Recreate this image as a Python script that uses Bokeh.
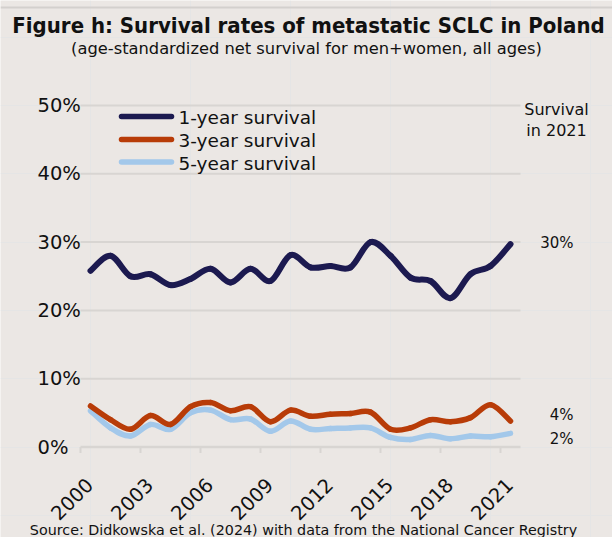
import numpy as np
from bokeh.plotting import figure
from bokeh.models import Range1d
from bokeh.core.properties import value
from bokeh.embed import file_html
from bokeh.resources import INLINE

# ---------------- data ----------------
years = list(range(2000, 2022))
surv_1y = [25.8, 28.0, 25.0, 25.3, 23.7, 24.6, 26.1, 24.1, 26.1, 24.3, 28.1,
           26.3, 26.5, 26.3, 30.0, 28.0, 24.8, 24.3, 21.8, 25.3, 26.5, 29.7]
surv_3y = [6.0, 4.0, 2.6, 4.6, 3.3, 5.9, 6.5, 5.3, 5.9, 3.7, 5.4,
           4.5, 4.8, 4.9, 5.1, 2.6, 2.8, 4.0, 3.7, 4.3, 6.2, 3.8]
surv_5y = [5.3, 2.8, 1.6, 3.3, 2.6, 5.0, 5.4, 4.0, 4.1, 2.3, 3.8,
           2.6, 2.7, 2.8, 2.8, 1.4, 1.1, 1.7, 1.2, 1.6, 1.5, 2.0]
series_names = ["1-year survival", "3-year survival", "5-year survival"]
tick_years = [2000, 2003, 2006, 2009, 2012, 2015, 2018, 2021]
y_ticks = [0, 10, 20, 30, 40, 50]
y_tick_labels = ["0%", "10%", "20%", "30%", "40%", "50%"]
title_text = "Figure h: Survival rates of metastatic SCLC in Poland"
subtitle_text = "(age-standardized net survival for men+women, all ages)"
source_text = "Source: Didkowska et al. (2024) with data from the National Cancer Registry"
right_header = ["Survival", "in 2021"]

# ---------------- style / layout ----------------
BG = "#EBE7E4"
GRID = "#D8D5D2"
TXT = "#111111"
COLORS = ["#1C1A50", "#B83C08", "#A3C8EA"]
WIDTHS = [6, 5.5, 5.5]
FONT = value("DejaVu Sans")
W, H = 612, 537
OFF = 0          # page offset of the canvas
PXY = 20.0       # px per year
PXP = 6.83       # px per percentage point
X0 = years[0] - (90 - OFF) / PXY
X1 = X0 + W / PXY
Y1 = (446.5 - OFF) / PXP
Y0 = Y1 - H / PXP


def dx(page_x):
    return X0 + (page_x - OFF) / PXY


def dy(page_y):
    return Y1 - (page_y - OFF) / PXP


p = figure(width=W, height=H, x_range=Range1d(X0, X1), y_range=Range1d(Y0, Y1),
           output_backend="svg", toolbar_location=None,
           x_axis_location=None, y_axis_location=None, min_border=0,
           outline_line_color=None, background_fill_color=BG, border_fill_color=BG)

# top rule
p.segment(x0=[X0], x1=[X1], y0=[dy(7)], y1=[dy(7)], line_color="#D3D0CD", line_width=2)

# grid lines and axis
xa, xb = years[0] - 0.5, years[-1] + 0.5
p.segment(x0=[xa] * (len(y_ticks) - 1), x1=[xb] * (len(y_ticks) - 1),
          y0=y_ticks[1:], y1=y_ticks[1:], line_color=GRID, line_width=2)
p.segment(x0=[xa], x1=[xb], y0=[0], y1=[0], line_color=GRID, line_width=2.5)
tick_x = [t - 0.5 for t in tick_years]
p.segment(x0=tick_x, x1=tick_x, y0=[0] * len(tick_x), y1=[-6 / PXP] * len(tick_x),
          line_color=GRID, line_width=2)

# y tick labels (left aligned, as in the original)
p.text(x=[dx(37)] * len(y_ticks), y=y_ticks, text=y_tick_labels, text_align="left",
       text_baseline="middle", text_font=FONT, text_font_size="19.5px", text_color=TXT)

# x tick labels (rotated)
p.text(x=[t - 0.05 for t in tick_years], y=[dy(481)] * len(tick_years),
       text=[str(t) for t in tick_years], angle=np.pi / 4, text_align="right",
       text_baseline="middle", text_font=FONT, text_font_size="19.5px", text_color=TXT)


# smoothed lines (Bezier segments computed from the data points)
def bezier_parts(xs, ys):
    xs = np.asarray(xs, float)
    ys = np.asarray(ys, float)
    n = len(xs)
    d = dict(x0=[], y0=[], x1=[], y1=[], cx0=[], cy0=[], cx1=[], cy1=[])
    for i in range(n - 1):
        a = max(i - 1, 0)
        b = min(i + 2, n - 1)
        d["x0"].append(xs[i]); d["y0"].append(ys[i])
        d["x1"].append(xs[i + 1]); d["y1"].append(ys[i + 1])
        d["cx0"].append(xs[i] + (xs[i + 1] - xs[a]) / 6)
        d["cy0"].append(ys[i] + (ys[i + 1] - ys[a]) / 6)
        d["cx1"].append(xs[i + 1] - (xs[b] - xs[i]) / 6)
        d["cy1"].append(ys[i + 1] - (ys[b] - ys[i]) / 6)
    return d


series = [surv_1y, surv_3y, surv_5y]
for k in [2, 1, 0]:
    p.bezier(**bezier_parts(years, series[k]), line_color=COLORS[k],
             line_width=WIDTHS[k], line_cap="round")

# legend
leg_y = [dy(116), dy(139), dy(161.5)]
p.segment(x0=[dx(121)] * 3, x1=[dx(171)] * 3, y0=leg_y, y1=leg_y,
          line_color=COLORS, line_width=5.5, line_cap="round")
p.text(x=[dx(178)] * 3, y=[v - 1 / PXP for v in leg_y], text=series_names,
       text_align="left", text_baseline="middle", text_font=FONT,
       text_font_size="18.5px", text_color=TXT)

# right-side labels
p.text(x=[dx(556)] * 2, y=[dy(109), dy(130)], text=right_header, text_align="center",
       text_baseline="middle", text_font=FONT, text_font_size="16px", text_color=TXT)
last_vals = [s[-1] for s in series]
nudge_px = [1.5, 6.5, -6.0]
p.text(x=[dx(573)] * 3, y=[v + n / PXP for v, n in zip(last_vals, nudge_px)],
       text=[f"{round(v)}%" for v in last_vals], text_align="right",
       text_baseline="middle", text_font=FONT, text_font_size="15px", text_color=TXT)

# titles and source
p.text(x=[dx(308)], y=[dy(25)], text=[title_text], text_align="center",
       text_baseline="middle", text_font=value("DejaVu Sans Condensed"),
       text_font_style="bold", text_font_size="22px", text_color=TXT)
p.text(x=[dx(306)], y=[dy(48)], text=[subtitle_text], text_align="center",
       text_baseline="middle", text_font=FONT, text_font_size="16.3px", text_color=TXT)
p.text(x=[dx(303)], y=[dy(529)], text=[source_text], text_align="center",
       text_baseline="middle", text_font=FONT, text_font_size="14.3px", text_color=TXT)

html = file_html(p, INLINE)
html = html.replace("<body", '<body style="background-color:%s"' % BG, 1)
open("out.html", "w").write(html)
